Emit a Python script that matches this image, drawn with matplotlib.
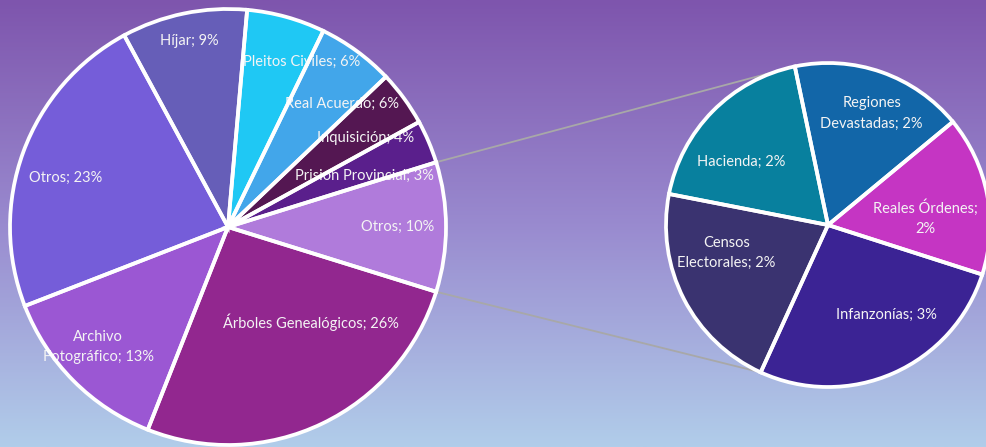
import matplotlib
matplotlib.use("Agg")
import matplotlib.pyplot as plt
import numpy as np
from matplotlib.colors import LinearSegmentedColormap

# ---------------- data ----------------
MAIN_NAMES = ["Otros", "Prision Provincial", "Inquisición", "Real Acuerdo",
              "Pleitos Civiles", "Híjar", "Otros", "Archivo\nFotográfico",
              "Árboles Genealógicos"]
MAIN_VALUES_FIXED = [3.2, 4.1, 5.7, 5.8, 9.3, 23.0, 13.1, 26.2]   # after the aggregated "Otros"
MAIN_COLORS = ["#b07bdb", "#5a1f8c", "#541752", "#42a6ea", "#1fc8f4",
               "#665eb8", "#755dd9", "#9b57d3", "#92278f"]

SUB_NAMES = ["Reales Órdenes", "Regiones\nDevastadas", "Hacienda",
             "Censos\nElectorales", "Infanzonías"]
SUB_VALUES = [1.53, 1.66, 1.79, 2.04, 2.58]
SUB_COLORS = ["#c535c3", "#1266a8", "#08809e", "#3a3370", "#3b2394"]
SUB_FMT = ["{n};\n{p}%", "{n}; {p}%", "{n}; {p}%", "{n}; {p}%", "{n}; {p}%"]

MAIN_VALUES = [sum(SUB_VALUES)] + MAIN_VALUES_FIXED

# ---------------- style / layout ----------------
W, H = 987, 447
MAIN_C, MAIN_R = (228, 220), 218
SUB_C, SUB_R = (828, 222), 162
SUB_START = -17.8
MAIN_LBL_DA = [0, -2.4, -3.2, -6.8, -8.5, 0, 3.2, -2.1, 15.6]
MAIN_LBL_R = [0.78, 0.67, 0.75, 0.77, 0.83, 0.87, 0.78, 0.81, 0.58]
SUB_LBL_DA = [-6.8, -2.1, 8.6, -11.8, 9.2]
SUB_LBL_R = [0.60, 0.74, 0.66, 0.65, 0.66]
EDGE_W = 2.7
TXT = dict(color="#f4f4f4", fontsize=10.5, family=["Lato", "DejaVu Sans"],
           ha="center", va="center", linespacing=1.55, zorder=3)

fig = plt.figure(figsize=(W / 100, H / 100), dpi=100)
ax = fig.add_axes([0, 0, 1, 1])

# background gradient
cmap = LinearSegmentedColormap.from_list("bg", ["#7e55ad", "#998acf", "#b1cdea"])
grad = np.linspace(0, 1, 256).reshape(-1, 1)
ax.imshow(grad, cmap=cmap, extent=[0, W, 0, H], aspect="auto", zorder=0)

total = sum(MAIN_VALUES)
main_start = -0.5 * MAIN_VALUES[0] / total * 360


def draw_pie(values, colors, start, center, radius):
    wedges, _ = ax.pie(values, colors=colors, startangle=start, counterclock=True,
                       center=center, radius=radius,
                       wedgeprops=dict(linewidth=0, zorder=2))
    ax.pie(values, colors=["none"] * len(values), startangle=start, counterclock=True,
           center=center, radius=radius,
           wedgeprops=dict(linewidth=EDGE_W, edgecolor="white", zorder=4))
    return wedges


mw = draw_pie(MAIN_VALUES, MAIN_COLORS, main_start, MAIN_C, MAIN_R)
sw = draw_pie(SUB_VALUES, SUB_COLORS, SUB_START, SUB_C, SUB_R)


def pt(c, r, ang):
    a = np.deg2rad(ang)
    return c[0] + r * np.cos(a), c[1] + r * np.sin(a)


# labels
for w, n, v, da, rr in zip(mw, MAIN_NAMES, MAIN_VALUES, MAIN_LBL_DA, MAIN_LBL_R):
    ang = 0.5 * (w.theta1 + w.theta2) + da
    x, y = pt(MAIN_C, MAIN_R * rr, ang)
    ax.text(x, y, f"{n}; {round(v / total * 100)}%", **TXT)

for w, n, v, f, da, rr in zip(sw, SUB_NAMES, SUB_VALUES, SUB_FMT, SUB_LBL_DA, SUB_LBL_R):
    ang = 0.5 * (w.theta1 + w.theta2) + da
    x, y = pt(SUB_C, SUB_R * rr, ang)
    ax.text(x, y, f.format(n=n, p=round(v / total * 100)), **TXT)

# connector lines
ow = mw[0]
p1 = pt(MAIN_C, MAIN_R, ow.theta2)
p2 = pt(MAIN_C, MAIN_R, ow.theta1)
# top of second pie: boundary between Regiones and Hacienda; bottom: Censos / Infanzonías
q1 = pt(SUB_C, SUB_R, sw[1].theta2)
q2 = pt(SUB_C, SUB_R, sw[3].theta2)
ax.plot([p1[0], q1[0]], [p1[1], q1[1]], color="#a8a8a8", lw=1.3, zorder=1)
ax.plot([p2[0], q2[0]], [p2[1], q2[1]], color="#a8a8a8", lw=1.3, zorder=1)

ax.set_xlim(0, W)
ax.set_ylim(0, H)
ax.set_aspect("equal")
ax.axis("off")

fig.savefig("out.png", dpi=100)
